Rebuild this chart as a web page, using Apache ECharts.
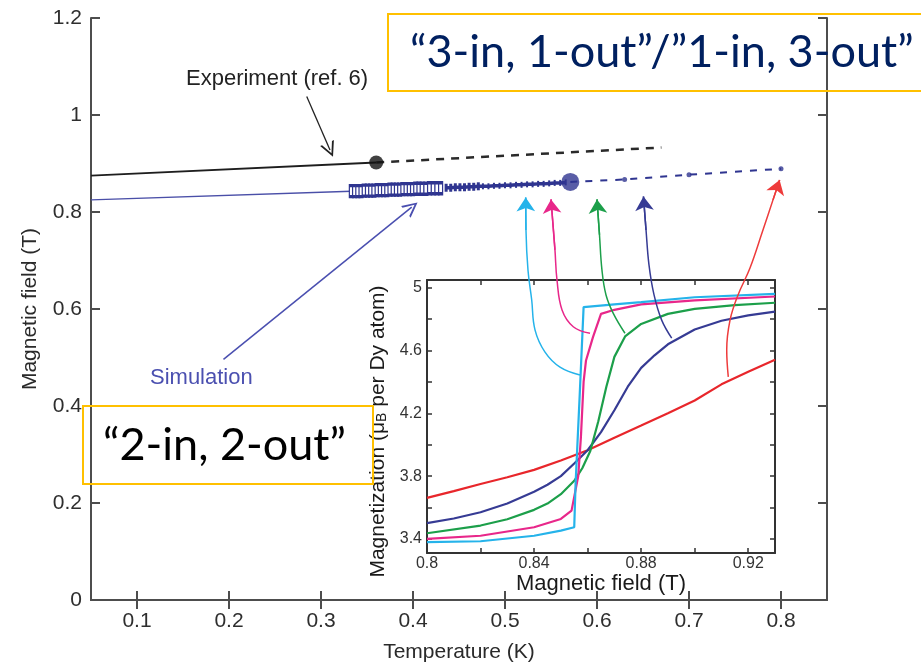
<!DOCTYPE html>
<html><head><meta charset="utf-8">
<script src="https://cdn.jsdelivr.net/npm/echarts@6/dist/echarts.min.js"></script>
<style>html,body{margin:0;padding:0;background:#fff}#c{width:921px;height:663px}</style>
</head><body><div id="c"></div>
<script>
// ---------------- data ----------------
const mainXTicks = [0.1, 0.2, 0.3, 0.4, 0.5, 0.6, 0.7, 0.8];
const mainYTicks = [0, 0.2, 0.4, 0.6, 0.8, 1, 1.2];
const insetXTicks = [0.8, 0.82, 0.84, 0.86, 0.88, 0.9, 0.92];
const insetXTickLabels = [0.8, 0.84, 0.88, 0.92];
const insetYTicks = [3.4, 3.6, 3.8, 4.0, 4.2, 4.4, 4.6, 4.8, 5.0];
const insetYTickLabels = [3.4, 3.8, 4.2, 4.6, 5];

// Main panel: Temperature (K) vs Magnetic field (T)
const experimentSolid = [[0.05, 0.875], [0.36, 0.902]];
const experimentDashed = [[0.36, 0.902], [0.67, 0.933]];
const experimentPoint = [[0.36, 0.902]];

const simulationThin = [[0.05, 0.825], [0.333, 0.843]];
const simulationSquares = [
  [0.333,0.843],[0.3365,0.843],[0.340,0.843],[0.3435,0.843],[0.347,0.844],[0.3505,0.844],
  [0.354,0.844],[0.3575,0.844],[0.361,0.845],[0.3645,0.845],[0.368,0.845],[0.3715,0.845],
  [0.375,0.846],[0.3785,0.846],[0.382,0.846],[0.3855,0.846],[0.389,0.847],[0.3925,0.847],
  [0.396,0.847],[0.3995,0.847],[0.403,0.848],[0.4065,0.848],[0.410,0.848],[0.414,0.848],
  [0.418,0.849],[0.422,0.849],[0.426,0.849],[0.430,0.849]
];
const simulationSmall = [
  [0.436,0.850],[0.441,0.850],[0.446,0.851],[0.451,0.851],[0.456,0.851],[0.461,0.852],
  [0.466,0.852],[0.471,0.853],[0.476,0.853],[0.482,0.853],[0.488,0.854],[0.494,0.854],
  [0.500,0.855],[0.506,0.855],[0.512,0.856],[0.518,0.856],[0.524,0.857],[0.530,0.857],
  [0.536,0.858],[0.542,0.858],[0.548,0.859],[0.554,0.860],[0.560,0.860],[0.566,0.861]
];
const simulationPoint = [[0.571, 0.862]];
const simulationDashed = [[0.571, 0.862], [0.63, 0.867], [0.70, 0.877], [0.80, 0.889]];
const simulationDashedDots = [[0.63, 0.867], [0.70, 0.877], [0.80, 0.889]];

// annotation arrows (main-panel data coordinates)
const experimentArrow = [[0.2845, 1.038], [0.3098, 0.928]];
const simulationArrow = [[0.194, 0.496], [0.3986, 0.810]];
const cyanArrow  = [[0.5815,0.464],[0.5598,0.480],[0.5435,0.511],[0.5326,0.557],[0.529,0.619],[0.525,0.680],[0.5228,0.763],[0.5225,0.830]];
const pinkArrow  = [[0.5924,0.550],[0.5742,0.5635],[0.562,0.598],[0.5565,0.660],[0.5543,0.722],[0.550,0.826]];
const greenArrow = [[0.6304,0.550],[0.6177,0.591],[0.6098,0.629],[0.6054,0.680],[0.6027,0.753],[0.600,0.826]];
const navyArrow  = [[0.6812,0.540],[0.6703,0.577],[0.662,0.629],[0.6565,0.691],[0.6533,0.763],[0.6505,0.832]];
const redArrow   = [[0.7427,0.460],[0.741,0.5155],[0.7446,0.577],[0.7533,0.629],[0.7663,0.6845],[0.7804,0.763],[0.7913,0.825],[0.7985,0.866]];

// Inset: Magnetic field (T) vs Magnetization (muB per Dy atom)
const insetRed = [[0.8,3.661],[0.81,3.704],[0.82,3.75],[0.83,3.793],[0.84,3.84],[0.85,3.90],[0.86,3.965],[0.87,4.045],[0.88,4.122],[0.89,4.20],[0.90,4.282],[0.91,4.385],[0.92,4.465],[0.93,4.541]];
const insetNavy = [[0.8,3.50],[0.81,3.53],[0.82,3.57],[0.83,3.625],[0.84,3.70],[0.845,3.745],[0.85,3.80],[0.855,3.88],[0.86,3.965],[0.865,4.08],[0.87,4.22],[0.875,4.37],[0.88,4.49],[0.885,4.57],[0.89,4.64],[0.90,4.735],[0.91,4.79],[0.92,4.825],[0.93,4.848]];
const insetGreen = [[0.8,3.436],[0.82,3.485],[0.83,3.525],[0.84,3.585],[0.845,3.625],[0.85,3.685],[0.855,3.77],[0.858,3.85],[0.861,3.96],[0.864,4.15],[0.867,4.37],[0.87,4.56],[0.874,4.69],[0.88,4.77],[0.89,4.834],[0.90,4.866],[0.915,4.89],[0.93,4.905]];
const insetPink = [[0.8,3.40],[0.82,3.42],[0.84,3.474],[0.85,3.527],[0.854,3.58],[0.8565,3.80],[0.8575,4.05],[0.8585,4.40],[0.8594,4.537],[0.862,4.686],[0.865,4.834],[0.87,4.86],[0.88,4.895],[0.90,4.92],[0.93,4.945]];
const insetCyan = [[0.8,3.379],[0.82,3.385],[0.84,3.42],[0.85,3.453],[0.855,3.474],[0.8555,3.75],[0.857,4.30],[0.8585,4.877],[0.87,4.895],[0.88,4.909],[0.90,4.94],[0.93,4.962]];

// ---------------- styles ----------------
const C = { red:'#e8262b', navy:'#363b94', green:'#1c9f4a', pink:'#e8278a', cyan:'#25b3ea', sim:'#2f3590', exp:'#1e1e1e' };
const FONT = '"Liberation Sans", Arial, Helvetica, sans-serif';
const openArrow = 'path://M5,0 L10,14 L8.6,14 L5,3.6 L1.4,14 L0,14 Z';

const mainAxisLine = { show: true, lineStyle: { color: '#4d4d4d', width: 2 } };
const insetAxisLine = { show: true, lineStyle: { color: '#333', width: 2 } };
const mainTick = (vals) => ({ show:true, inside:true, length:9, customValues: vals, lineStyle:{ color:'#4d4d4d', width:2 } });
const insetTick = (vals) => ({ show:true, inside:true, length:5, customValues: vals, lineStyle:{ color:'#333', width:1.5 } });

const chart = echarts.init(document.getElementById('c'));

function curve(data, color, width, extra) {
  return Object.assign({ type:'line', xAxisIndex:0, yAxisIndex:0, data, showSymbol:false, symbol:'none',
    lineStyle:{ color, width }, itemStyle:{ color }, z:5, silent:true }, extra || {});
}
function inset(data, color) {
  return { type:'line', xAxisIndex:2, yAxisIndex:2, data, showSymbol:false, symbol:'none',
    lineStyle:{ color, width:2.2 }, z:4, silent:true };
}
function tip(points) { return points.slice(points.length - 2); }

chart.setOption({
  animation: false,
  backgroundColor: '#fff',
  grid: [
    { left: 91, top: 18, width: 736, height: 582, containLabel:false, outerBoundsMode:'none' },
    { left: 427, top: 280, width: 348, height: 273, containLabel:false, outerBoundsMode:'none' }
  ],
  xAxis: [
    { gridIndex:0, type:'value', min:0.05, max:0.85, position:'bottom',
      name:'Temperature (K)', nameLocation:'middle', nameGap:42,
      nameTextStyle:{ fontFamily:FONT, fontSize:21, color:'#2a2a2a' },
      axisLine: mainAxisLine, splitLine:{ show:false }, axisTick: mainTick(mainXTicks),
      axisLabel:{ fontFamily:FONT, fontSize:21, color:'#2e2e2e', margin:11, customValues: mainXTicks } },
    { gridIndex:0, type:'value', min:0.05, max:0.85, position:'top',
      axisLine: mainAxisLine, splitLine:{ show:false }, axisTick: mainTick(mainXTicks),
      axisLabel:{ show:false } },
    { gridIndex:1, type:'value', min:0.8, max:0.93, position:'bottom',
      name:'Magnetic field (T)', nameLocation:'middle', nameGap:9,
      nameTextStyle:{ fontFamily:FONT, fontSize:22, color:'#1a1a1a' },
      axisLine: insetAxisLine, splitLine:{ show:false }, axisTick: insetTick(insetXTicks),
      axisLabel:{ fontFamily:FONT, fontSize:16, color:'#333', margin:3, customValues: insetXTickLabels } },
    { gridIndex:1, type:'value', min:0.8, max:0.93, position:'top',
      axisLine: insetAxisLine, splitLine:{ show:false }, axisTick: insetTick(insetXTicks),
      axisLabel:{ show:false } }
  ],
  yAxis: [
    { gridIndex:0, type:'value', min:0, max:1.2, position:'left',
      name:'Magnetic field (T)', nameLocation:'middle', nameGap:50, nameRotate:90,
      nameTextStyle:{ fontFamily:FONT, fontSize:21, color:'#2a2a2a' },
      axisLine: mainAxisLine, splitLine:{ show:false }, axisTick: mainTick(mainYTicks),
      axisLabel:{ fontFamily:FONT, fontSize:21, color:'#2e2e2e', margin:9, customValues: mainYTicks } },
    { gridIndex:0, type:'value', min:0, max:1.2, position:'right',
      axisLine: mainAxisLine, splitLine:{ show:false }, axisTick: mainTick(mainYTicks),
      axisLabel:{ show:false } },
    { gridIndex:1, type:'value', min:3.31, max:5.05, position:'left',
      name:'Magnetization (μ{sub|B} per Dy atom)', nameLocation:'middle', nameGap:38, nameRotate:90,
      nameTextStyle:{ fontFamily:FONT, fontSize:21, color:'#1a1a1a', padding:[0,30,0,0],
        rich:{ sub:{ fontFamily:FONT, fontSize:14, color:'#1a1a1a', verticalAlign:'bottom', padding:[6,0,0,0] } } },
      axisLine: insetAxisLine, splitLine:{ show:false }, axisTick: insetTick(insetYTicks),
      axisLabel:{ fontFamily:FONT, fontSize:16, color:'#333', margin:5, customValues: insetYTickLabels } },
    { gridIndex:1, type:'value', min:3.31, max:5.05, position:'right',
      axisLine: insetAxisLine, splitLine:{ show:false }, axisTick: insetTick(insetYTicks),
      axisLabel:{ show:false } }
  ],
  series: [
    // inset curves
    inset(insetRed, C.red), inset(insetNavy, C.navy), inset(insetGreen, C.green),
    inset(insetPink, C.pink), inset(insetCyan, C.cyan),

    // experiment
    curve(experimentSolid, C.exp, 2),
    curve(experimentDashed, '#2a2a2a', 2.5, { lineStyle:{ color:'#2a2a2a', width:2.5, type:[8,7] } }),
    { type:'scatter', xAxisIndex:0, yAxisIndex:0, data:experimentPoint, symbolSize:14, itemStyle:{ color:'#111' }, z:6, silent:true },

    // simulation
    curve(simulationThin, '#4a4fa8', 1.5),
    curve(simulationSquares, C.sim, 2, { showSymbol:true, symbol:'emptyRect', symbolSize:[4,11],
      itemStyle:{ color:C.sim, borderColor:C.sim, borderWidth:1.2 } }),
    curve(simulationSmall, C.sim, 3.5, { showSymbol:true, symbol:'rect',
      symbolSize:(v, p) => p.dataIndex < 8 ? [3,8] : [2,6], itemStyle:{ color:C.sim } }),
    curve(simulationDashed, C.sim, 2, { lineStyle:{ color:C.sim, width:2, type:[7,8] } }),
    { type:'scatter', xAxisIndex:0, yAxisIndex:0, data:simulationDashedDots, symbolSize:5, itemStyle:{ color:C.sim }, z:6, silent:true },
    { type:'scatter', xAxisIndex:0, yAxisIndex:0, data:simulationPoint, symbolSize:18, itemStyle:{ color:C.sim }, z:6, silent:true },

    // black & blue straight arrows
    { type:'lines', coordinateSystem:'cartesian2d', xAxisIndex:0, yAxisIndex:0, z:6, silent:true,
      symbol:['none', openArrow], symbolSize:[10,15],
      data:[
        { coords: experimentArrow, lineStyle:{ color:'#222', width:1.3, opacity:1 } },
        { coords: simulationArrow, lineStyle:{ color:'#4a4fb0', width:1.5, opacity:1 } }
      ] },

    // colored curved arrows
    curve(cyanArrow, C.cyan, 1.5, { smooth:0.4 }),
    curve(pinkArrow, C.pink, 1.5, { smooth:0.4 }),
    curve(greenArrow, C.green, 1.5, { smooth:0.4 }),
    curve(navyArrow, C.navy, 1.5, { smooth:0.4 }),
    curve(redArrow, '#ee3b3b', 1.5, { smooth:0.4 }),
    { type:'lines', coordinateSystem:'cartesian2d', xAxisIndex:0, yAxisIndex:0, z:6, silent:true,
      symbol:['none','arrow'], symbolSize:[9,14],
      data:[
        { coords: tip(cyanArrow), lineStyle:{ color:C.cyan, width:1.5, opacity:1 } },
        { coords: tip(pinkArrow), lineStyle:{ color:C.pink, width:1.5, opacity:1 } },
        { coords: tip(greenArrow), lineStyle:{ color:C.green, width:1.5, opacity:1 } },
        { coords: tip(navyArrow), lineStyle:{ color:C.navy, width:1.5, opacity:1 } },
        { coords: tip(redArrow), lineStyle:{ color:'#ee3b3b', width:1.5, opacity:1 } }
      ] }
  ],
  graphic: [
    { type:'text', x:186, y:79, z:10, silent:true,
      style:{ text:'Experiment (ref. 6)', fontFamily:FONT, fontSize:22, fill:'#222', align:'left', verticalAlign:'middle' } },
    { type:'text', x:150, y:378, z:10, silent:true,
      style:{ text:'Simulation', fontFamily:FONT, fontSize:22, fill:'#4b50b0', align:'left', verticalAlign:'middle' } },
    { type:'rect', z:10, silent:true, shape:{ x:388, y:14, width:560, height:77 },
      style:{ fill:'none', stroke:'#FFC000', lineWidth:2 } },
    { type:'text', x:410, y:52, z:11, silent:true,
      style:{ text:'“3-in, 1-out”/”1-in, 3-out”', fontFamily:'Lato, "Open Sans", sans-serif', fontSize:45, fill:'#002060', align:'left', verticalAlign:'middle' } },
    { type:'rect', z:10, silent:true, shape:{ x:83, y:406, width:290, height:78 },
      style:{ fill:'none', stroke:'#FFC000', lineWidth:2 } },
    { type:'text', x:103, y:445, z:11, silent:true,
      style:{ text:'“2-in, 2-out”', fontFamily:'Lato, "Open Sans", sans-serif', fontSize:45, fill:'#000', align:'left', verticalAlign:'middle' } }
  ]
});
</script></body></html>
